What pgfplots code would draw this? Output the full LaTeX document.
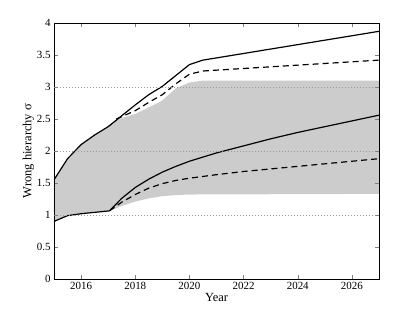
\documentclass[border=0pt]{standalone}
\usepackage{fontspec}
\setmainfont{Liberation Serif}
\usepackage{pgfplots}
\pgfplotsset{compat=1.18}
\begin{document}
\begin{tikzpicture}
\useasboundingbox (-54bp,-35bp) rectangle (365bp,279bp);
\begin{axis}[
  at={(0,0)}, anchor=south west,
  scale only axis, width=325bp, height=256bp,
  xmin=2015, xmax=2027, ymin=0, ymax=4,
  xtick={2016,2018,...,2026},
  ytick={0,0.5,...,4},
  x tick label style={/pgf/number format/1000 sep={}},
  /pgf/number format/assume math mode=true,
  tick label style={font=\fontsize{11}{13}\selectfont},
  yticklabel style={/pgf/number format/fixed},
  tick align=inside, major tick length=4bp,
  xtick pos=both, ytick pos=both,
  axis on top,
  axis line style={line width=0.6pt},
  extra y ticks={1,2,3}, extra y tick labels={},
  extra y tick style={grid=major, major grid style={line width=0.5pt, gray!80, dash pattern=on 0.5bp off 2.5bp}},
  xlabel={Year}, ylabel={Wrong hierarchy σ},
  label style={font=\fontsize{12.5}{14}\selectfont},
  xlabel style={yshift=3bp},
  ylabel style={yshift=-4bp},
]
\addplot[fill=gray!40, draw=none] coordinates {
 (2015,1.55) (2015.5,1.88) (2016,2.1) (2016.5,2.25) (2017,2.38) (2017.3,2.49)
 (2018,2.58) (2018.5,2.68) (2019,2.79) (2019.5,2.98) (2020,3.07) (2020.5,3.1) (2027,3.1)
 (2027,1.33) (2020,1.32) (2019.5,1.31) (2019,1.295) (2018.5,1.26) (2018,1.21) (2017.5,1.14)
 (2017.05,1.065) (2016,1.02) (2015.5,0.99) (2015,0.9)} -- cycle;
\addplot[black, line width=1.2pt] coordinates {
 (2015,1.55) (2015.5,1.88) (2016,2.1) (2016.5,2.25) (2017,2.38) (2017.5,2.55) (2018,2.72)
 (2018.5,2.88) (2019,3.01) (2019.5,3.18) (2020,3.35) (2020.5,3.42) (2027,3.87)};
\addplot[black, line width=1.2pt, dash pattern=on 6bp off 4bp] coordinates {
 (2017.3,2.5) (2018,2.63) (2018.5,2.76) (2019,2.88) (2019.5,3.05) (2020,3.2) (2020.5,3.25) (2027,3.42)};
\addplot[black, line width=1.2pt] coordinates {
 (2015,0.9) (2015.5,0.99) (2016,1.02) (2017.05,1.065) (2017.5,1.26) (2018,1.43) (2018.5,1.56)
 (2019,1.67) (2019.5,1.76) (2020,1.84) (2021,1.97) (2022,2.08) (2023,2.19) (2024,2.29)
 (2025,2.38) (2026,2.47) (2027,2.56)};
\addplot[black, line width=1.2pt, dash pattern=on 6bp off 4bp] coordinates {
 (2017.05,1.065) (2017.5,1.2) (2018,1.32) (2018.5,1.42) (2019,1.49) (2019.5,1.54) (2020,1.575)
 (2021,1.63) (2022,1.68) (2023,1.72) (2024,1.76) (2025,1.8) (2026,1.84) (2027,1.88)};
\end{axis}
\end{tikzpicture}
\end{document}
